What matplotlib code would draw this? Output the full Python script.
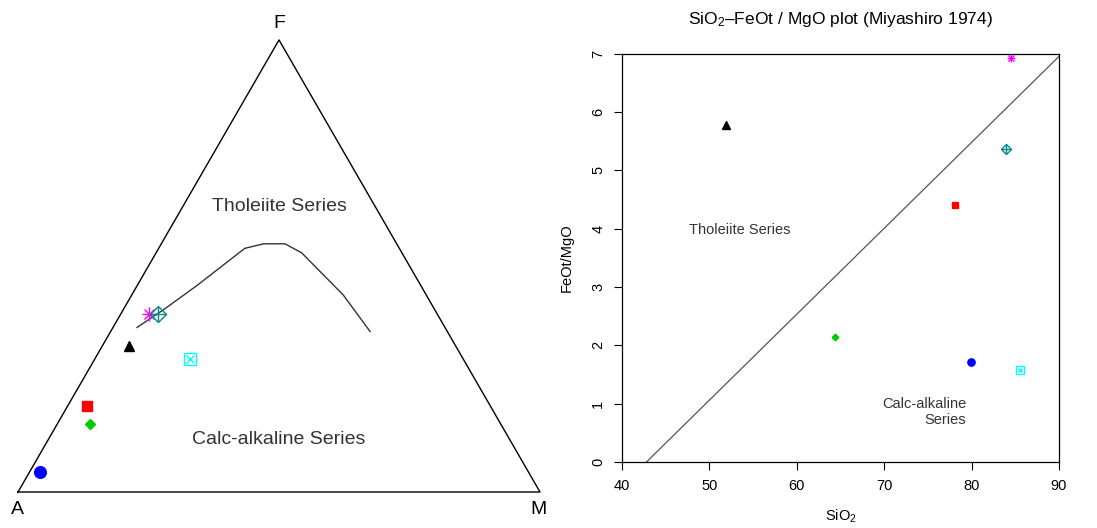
import numpy as np
import matplotlib
matplotlib.use("Agg")
import matplotlib.pyplot as plt

plt.rcParams['font.family'] = ['Liberation Sans', 'DejaVu Sans']
plt.rcParams['mathtext.fontset'] = 'custom'
plt.rcParams['mathtext.rm'] = 'Liberation Sans'
plt.rcParams['mathtext.it'] = 'Liberation Sans:italic'

# samples: AFM percentages (ternary) and Miyashiro data
tern_A = [93.6, 77.3, 78.7, 62.7, 55.2, 53.6, 52.3]
tern_F = [4.4, 19.0, 15.0, 32.2, 39.3, 39.3, 29.4]
tern_M = [2.0, 3.7, 6.3, 5.1, 5.5, 7.1, 18.3]
sio2 = [79.9, 78.1, 64.4, 51.9, 84.5, 83.9, 85.5]
feot_mgo = [1.72, 4.40, 2.14, 5.77, 6.93, 5.36, 1.57]
colors = ['#0000FF', '#FF0000', '#00CD00', '#000000', '#FF00FF', '#008B8B', '#00FFFF']
kinds = ['circle', 'square', 'diamond', 'triangle', 'asterisk', 'diamondplus', 'boxx']

# Irvine & Baragar (1971) boundary in AFM space (F, M %)
curve_F = [36.4, 40.3, 45.6, 53.9, 54.9, 54.9, 52.9, 49.5, 43.6, 35.5]
curve_M = [4.6, 7.7, 11.4, 16.5, 19.6, 23.7, 27.9, 32.5, 40.5, 49.7]

# Miyashiro (1974) dividing line
line_sio2 = [42.8, 90.0]
line_ratio = [0.0, 6.95]


def tern_xy(f, m):
    f = np.asarray(f) / 100.0
    m = np.asarray(m) / 100.0
    return m + f / 2, f * np.sqrt(3) / 2


def draw_marker(ax, x, y, kind, color, big):
    s = 1.2 if big else 0.75
    if kind == 'circle':
        ax.plot(x, y, 'o', color=color, ms=7 * s, mec=color)
    elif kind == 'square':
        ax.plot(x, y, 's', color=color, ms=6.5 * s, mec=color)
    elif kind == 'diamond':
        ax.plot(x, y, 'D', color=color, ms=4.5 * s, mec=color)
    elif kind == 'triangle':
        ax.plot(x, y, '^', color=color, ms=(6.5 if big else 8) * s, mec=color)
    elif kind == 'asterisk':
        ax.plot(x, y, '+', color=color, ms=8 * s, mew=1)
        ax.plot(x, y, 'x', color=color, ms=6 * s, mew=1)
    elif kind == 'diamondplus':
        ax.plot(x, y, 'D', mfc='none', mec=color, ms=6.5 * s, mew=1)
        ax.plot(x, y, '+', color=color, ms=9 * s, mew=1)
    elif kind == 'boxx':
        ax.plot(x, y, 's', mfc='none', mec=color, ms=7 * s, mew=1)
        ax.plot(x, y, 'x', color=color, ms=4.5 * s, mew=1)


W, H = 1097, 528
fig = plt.figure(figsize=(W / 100, H / 100), dpi=100)

# ---- ternary AFM ----
axl = fig.add_axes([0, 0, 560 / W, 1])
sc = 522.0
axl.set_xlim(-18 / sc, (560 - 18) / sc)
axl.set_ylim((492 - H) / sc, 492 / sc)
axl.axis('off')
tx, ty = tern_xy([0, 100, 0, 0], [0, 0, 100, 0])
axl.plot(tx, ty, color='black', lw=1)
cx, cy = tern_xy(curve_F, curve_M)
axl.plot(cx, cy, color='#333333', lw=1)
axl.text(0.5, (492 - 24) / sc, 'F', ha='center', va='center', fontsize=14)
axl.text(-1 / sc, -18 / sc, 'A', ha='center', va='center', fontsize=14)
axl.text(521 / sc, -18 / sc, 'M', ha='center', va='center', fontsize=14)
axl.text(0.5, (492 - 207) / sc, 'Tholeiite Series', ha='center', va='center', fontsize=14, color='#333333')
axl.text(0.5, (492 - 440) / sc, 'Calc-alkaline Series', ha='center', va='center', fontsize=14, color='#333333')
px, py = tern_xy(tern_F, tern_M)
for i in range(len(px)):
    draw_marker(axl, px[i], py[i], kinds[i], colors[i], True)

# ---- Miyashiro plot ----
axr = fig.add_axes([622 / W, (H - 462) / H, (1059 - 622) / W, (462 - 53.5) / H])
axr.set_xlim(40, 90)
axr.set_ylim(0, 7)
axr.plot(line_sio2, line_ratio, color='#555555', lw=0.9)
for i in range(len(sio2)):
    draw_marker(axr, sio2[i], feot_mgo[i], kinds[i], colors[i], False)
axr.set_xticks(range(40, 91, 10))
axr.set_yticks(range(0, 8))
axr.tick_params(direction='out', length=6, width=0.8, labelsize=10.5, pad=6)
plt.setp(axr.get_yticklabels(), rotation=90, va='center')
for sp in axr.spines.values():
    sp.set_linewidth(0.9)
axr.set_xlabel('SiO$_2$', fontsize=10.5, labelpad=11)
axr.set_ylabel('FeOt/MgO', fontsize=10.5, labelpad=13)
axr.set_title('SiO$_2$\u2013FeOt / MgO plot (Miyashiro 1974)', fontsize=12.5, pad=21)
axr.text(53.5, 3.98, 'Tholeiite Series', ha='center', va='center', fontsize=10.5, color='#333333')
axr.text(79.4, 0.86, 'Calc-alkaline\nSeries', ha='right', va='center', fontsize=10.5,
         color='#333333', linespacing=1.2)

fig.savefig('out.png', dpi=100)
